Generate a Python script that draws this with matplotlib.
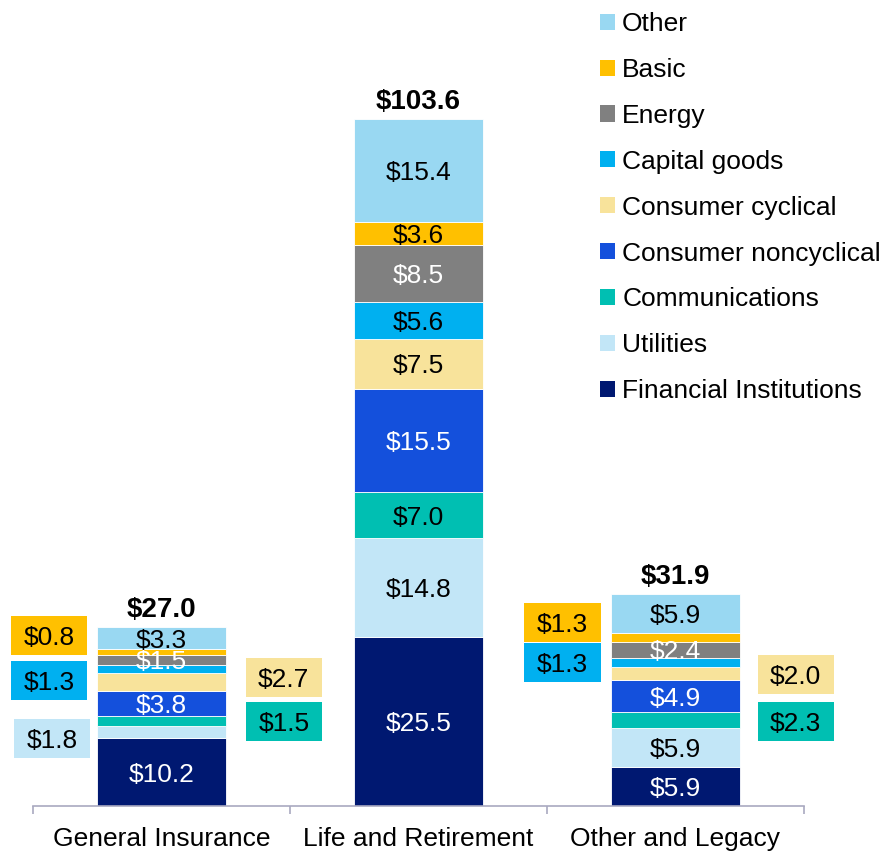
import matplotlib
matplotlib.use("Agg")
import matplotlib.pyplot as plt
from matplotlib.patches import Rectangle, Patch

plt.rcParams['font.family'] = ['Liberation Sans', 'DejaVu Sans']

categories = ["General Insurance", "Life and Retirement", "Other and Legacy"]
sectors = ["Financial Institutions", "Utilities", "Communications",
           "Consumer noncyclical", "Consumer cyclical", "Capital goods",
           "Energy", "Basic", "Other"]

financial = [10.2, 25.5, 5.9]
utilities = [1.8, 14.8, 5.9]
communications = [1.5, 7.0, 2.3]
noncyclical = [3.8, 15.5, 4.9]
cyclical = [2.7, 7.5, 2.0]
capital_goods = [1.3, 5.6, 1.3]
energy = [1.5, 8.5, 2.4]
basic = [0.8, 3.6, 1.3]
other = [3.3, 15.4, 5.9]
totals = [27.0, 103.6, 31.9]

series = [financial, utilities, communications, noncyclical, cyclical,
          capital_goods, energy, basic, other]

colors = ["#001871", "#C2E6F7", "#00BFB2", "#1450DC", "#F8E39B",
          "#00B0F0", "#808080", "#FFC000", "#99D8F2"]
text_colors = ["white", "black", "black", "white", "black",
               "black", "white", "black", "black"]

# labels drawn outside the bar: (category index, sector index, x offset, y centre)
external = [
    (0, 7, -0.437, 25.6), (0, 5, -0.437, 18.9), (0, 1, -0.425, 10.2),
    (0, 4, 0.476, 19.35), (0, 2, 0.476, 12.7),
    (2, 7, -0.44, 27.6), (2, 5, -0.44, 21.6),
    (2, 4, 0.468, 19.8), (2, 2, 0.468, 12.7),
]
ext_keys = {(c, s) for c, s, _, _ in external}

fig = plt.figure(figsize=(8.86, 8.51), dpi=100)
ax = fig.add_axes([33 / 886, 45 / 851, 771 / 886, 797 / 851])

x = list(range(len(categories)))
bw = 0.5
bottoms = [0.0] * len(categories)
for si, vals in enumerate(series):
    ax.bar(x, vals, bw, bottom=bottoms, color=colors[si],
           edgecolor="white", linewidth=0.6, label=sectors[si], zorder=2)
    for ci, v in enumerate(vals):
        if (ci, si) not in ext_keys:
            ax.text(x[ci], bottoms[ci] + v / 2, f"${v:.1f}", ha="center",
                    va="center_baseline", fontsize=19,
                    color=text_colors[si], zorder=3)
    bottoms = [b + v for b, v in zip(bottoms, vals)]

for ci, t in enumerate(totals):
    ax.annotate(f"${t:.1f}", (x[ci], bottoms[ci]), xytext=(0, 3),
                textcoords="offset points", ha="center", va="bottom",
                fontsize=20, fontweight="bold", color="black")

bw_box = 0.2965
bh_box = 5.87
for ci, si, dx, yc in external:
    v = series[si][ci]
    ax.add_patch(Rectangle((x[ci] + dx - bw_box / 2, yc - bh_box / 2),
                           bw_box, bh_box, facecolor=colors[si],
                           edgecolor="none", zorder=2, clip_on=False))
    ax.text(x[ci] + dx, yc, f"${v:.1f}", ha="center", va="center_baseline",
            fontsize=19, color="black", zorder=3)

ax.set_xlim(-0.5, 2.5)
ax.set_ylim(0, 120)
ax.set_yticks([])
for s in ["top", "right", "left"]:
    ax.spines[s].set_visible(False)
ax.spines["bottom"].set_color("#A9A9C0")
ax.spines["bottom"].set_linewidth(1.2)
ax.set_xticks([-0.5, 0.5, 1.5, 2.5])
ax.set_xticklabels([])
ax.tick_params(axis="x", which="major", direction="out", length=6,
               width=1.2, color="#A9A9C0")
ax.set_xticks(x, minor=True)
ax.set_xticklabels(categories, minor=True, fontsize=19)
ax.tick_params(axis="x", which="minor", length=0, pad=15)

handles = [Patch(facecolor=colors[i]) for i in range(len(sectors))][::-1]
labels = sectors[::-1]
fig.legend(handles, labels, loc="upper left",
           bbox_to_anchor=(600 / 886, 1 - 12 / 851), frameon=False,
           fontsize=19, handlelength=0.56, handleheight=0.56,
           handletextpad=0.28, labelspacing=0.83, borderpad=0,
           borderaxespad=0)

fig.savefig("out.png", dpi=100)
